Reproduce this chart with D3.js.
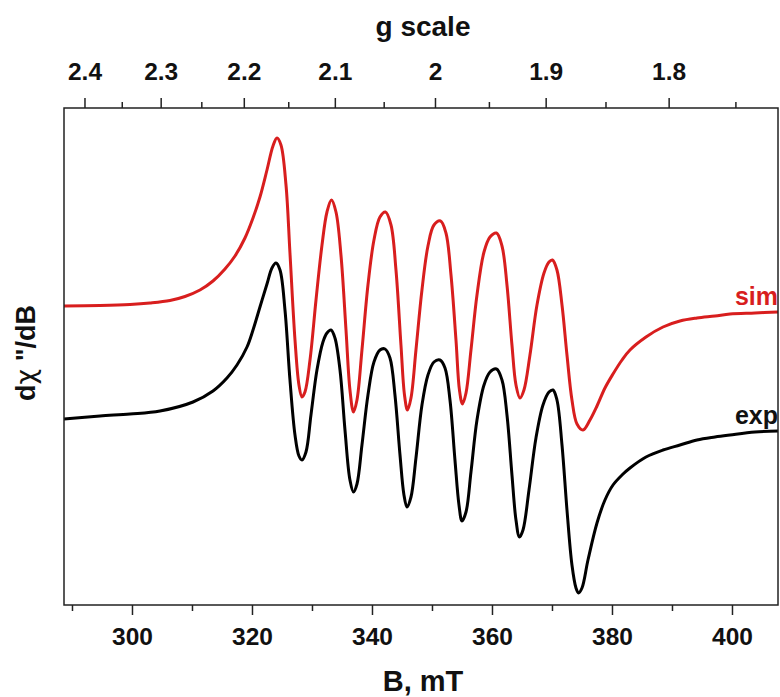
<!DOCTYPE html>
<html><head><meta charset="utf-8">
<script src="https://cdn.jsdelivr.net/npm/d3@7"></script>
<style>
html,body{margin:0;padding:0;background:#fff;}
svg text{font-family:"Liberation Sans",Arial,sans-serif;font-weight:bold;}
</style></head>
<body>
<svg id="chart" width="780" height="697"></svg>
<script>
// ---- data ----
const bSim = [288.67,294.67,299.67,303,306.33,308.83,311.33,313.5,315.5,317.17,318.83,320.17,321.33,322.5,323.5,324.17,324.83,325.67,326.33,327.17,327.83,328.33,328.83,329.67,330.67,331.67,332.5,333.25,334,334.83,335.67,336.33,336.92,337.5,338.33,339.33,340.33,341.33,342.25,343.17,344,344.83,345.42,345.92,346.5,347.33,348.33,349.33,350.33,351.42,352.33,353.17,354,354.58,355.08,355.67,356.5,357.5,358.67,359.67,360.75,361.67,362.5,363.33,364,364.67,365.33,366.33,367.5,368.67,369.5,370.08,370.83,371.67,372.5,373.33,374.17,375.17,376.33,377.5,378.83,380.17,381.67,383,385.67,388.5,391.33,394.17,397.17,399.67,403.83,407.67];
const iSim = [94,94.5,95.5,97,99.5,103.5,110,119,131,144,162,182,203,230,254,262,255,215,147,60,15,3,8,40,100,155,188,200,188,145,70,10,-12,0,50,115,160,183,188,175,130,55,5,-10,2,50,110,154,175,179,167,125,60,10,-4,7,50,105,148,163,167,154,115,55,15,2,10,45,95,127,138,140,130,95,45,0,-24,-30,-20,-6,12,26,40,50,63,73,79,82,84,86,87,88];
const bExp = [288.67,294.67,299.67,304.67,310.17,313.5,315.83,317.5,319.17,320.17,321.33,322.5,323.33,324,324.67,325.5,326.33,327.17,327.83,328.33,329,329.83,330.83,331.83,332.5,333.17,333.83,334.67,335.5,336.33,336.92,337.5,338.33,339.33,340.33,341.33,342.17,343,343.83,344.67,345.33,345.83,346.5,347.33,348.33,349.33,350.33,351.33,352.17,353,353.83,354.5,355,355.67,356.5,357.5,358.67,359.67,360.75,361.67,362.5,363.33,364,364.58,365.17,366.17,367.33,368.5,369.5,370.17,370.83,371.67,372.5,373.33,374,374.42,375,376,377.5,378.83,380.17,381.67,383,385.67,388.5,391.33,394.17,397.17,399.67,403.83,407.67];
const iExp = [-19,-16,-14,-11,-2,9,22,35,53,70,93,116,132,137,130,90,20,-35,-56,-60,-52,-15,30,58,67,70,62,30,-30,-80,-92,-84,-45,5,38,50,51,42,5,-55,-95,-107,-97,-58,-5,25,38,40,32,0,-60,-105,-121,-112,-72,-20,15,28,31,20,-15,-75,-120,-137,-130,-90,-38,-5,8,10,0,-45,-110,-165,-188,-193,-188,-160,-123,-100,-85,-75,-68,-57,-50,-45,-40,-37,-35,-32,-31];
const bMajor = [300,320,340,360,380,400];
const bMinor = [290,310,330,350,370,390];
const gMajor = [2.4,2.3,2.2,2.1,2.0,1.9,1.8];
const gMinor = [2.35,2.25,2.15,2.05,1.95,1.85,1.75];
const gLabels = ["2.4","2.3","2.2","2.1","2","1.9","1.8"];
const gB = 701; // g * B (mT) at the microwave frequency used

// ---- layout ----
const L = 64, R = 778, T = 108, B = 605;
const svg = d3.select("#chart");
const x = d3.scaleLinear().domain([288.67, 407.67]).range([L, R]);
const y = d3.scaleLinear().domain([-205, 292]).range([B, T]);

// curves
const line = d3.line().x(d => x(d[0])).y(d => y(d[1])).curve(d3.curveCatmullRom.alpha(0.5));
const simPts = bSim.map((b, i) => [b, iSim[i]]);
const expPts = bExp.map((b, i) => [b, iExp[i]]);
svg.append("path").attr("d", line(expPts)).attr("fill", "none")
  .attr("stroke", "#000").attr("stroke-width", 3).attr("stroke-linejoin", "round");
svg.append("path").attr("d", line(simPts)).attr("fill", "none")
  .attr("stroke", "#d81e1e").attr("stroke-width", 3).attr("stroke-linejoin", "round");

// frame
svg.append("rect").attr("x", L).attr("y", T).attr("width", R - L).attr("height", B - T)
  .attr("fill", "none").attr("stroke", "#222").attr("stroke-width", 1.5);

// bottom axis
const axB = svg.append("g").attr("transform", `translate(0,${B})`)
  .call(d3.axisBottom(x).tickValues(bMajor).tickSize(10).tickFormat(d3.format("d")));
axB.selectAll(".tick text").attr("dy", null).attr("y", 40);
svg.append("g").attr("transform", `translate(0,${B})`)
  .call(d3.axisBottom(x).tickValues(bMinor).tickSize(6).tickFormat(""));
// top axis (g scale)
const axT = svg.append("g").attr("transform", `translate(0,${T})`)
  .call(d3.axisTop(x).tickValues(gMajor.map(g => gB / g)).tickSize(10)
    .tickFormat((d, i) => gLabels[i]));
axT.selectAll(".tick text").attr("dy", null).attr("y", -28);
svg.append("g").attr("transform", `translate(0,${T})`)
  .call(d3.axisTop(x).tickValues(gMinor.map(g => gB / g)).tickSize(6).tickFormat(""));

svg.selectAll(".domain").remove();
svg.selectAll(".tick line").attr("stroke", "#222").attr("stroke-width", 1.5);
svg.selectAll(".tick text").attr("font-size", 24.5).attr("font-family", "Liberation Sans, Arial, sans-serif")
  .attr("font-weight", "bold").attr("fill", "#111");

// titles
svg.append("text").attr("x", 423).attr("y", 36).attr("text-anchor", "middle")
  .attr("font-size", 28).attr("fill", "#111").text("g scale");
svg.append("text").attr("x", 423).attr("y", 691).attr("text-anchor", "middle")
  .attr("font-size", 29).attr("fill", "#111").text("B, mT");
const yl = svg.append("text").attr("transform", "translate(35,353) rotate(-90)")
  .attr("text-anchor", "middle").attr("font-size", 27).attr("fill", "#111");
yl.append("tspan").text("d");
yl.append("tspan").attr("font-weight", "normal").attr("font-family", "DejaVu Sans").text("χ");
yl.append("tspan").text(" \"/dB");

// series labels
svg.append("text").attr("x", 778).attr("y", 305).attr("text-anchor", "end")
  .attr("font-size", 25).attr("fill", "#d81e1e").text("sim");
svg.append("text").attr("x", 778).attr("y", 424).attr("text-anchor", "end")
  .attr("font-size", 25).attr("fill", "#111").text("exp");
</script>
</body></html>
